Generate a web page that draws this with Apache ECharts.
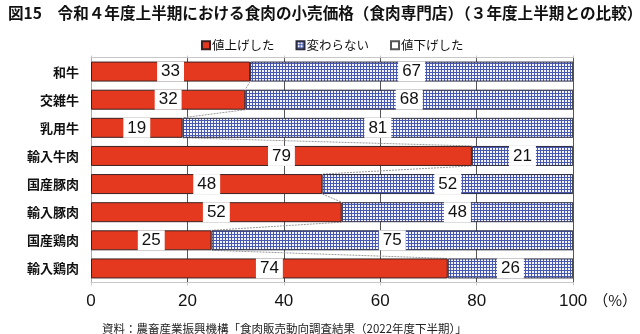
<!DOCTYPE html>
<html>
<head>
<meta charset="utf-8">
<script src="https://cdn.jsdelivr.net/npm/echarts@6/dist/echarts.min.js"></script>
<style>
  html, body { margin: 0; padding: 0; background: #fff; }
  #chart { width: 640px; height: 334px; }
</style>
</head>
<body>
<div id="chart"></div>
<script>
// 品目と回答割合（%）
const categories = ['和牛', '交雑牛', '乳用牛', '輸入牛肉', '国産豚肉', '輸入豚肉', '国産鶏肉', '輸入鶏肉'];
const raised    = [33, 32, 19, 79, 48, 52, 25, 74];
const unchanged = [67, 68, 81, 21, 52, 48, 75, 26];
const lowered   = [0, 0, 0, 0, 0, 0, 0, 0];
const seriesNames = ['値上げした', '変わらない', '値下げした'];
const xTicks = [0, 20, 40, 60, 80, 100];

const CJK = '"Noto Sans CJK JP", "Noto Sans", sans-serif';
const NUM = '"Liberation Sans Narrow", "Liberation Sans", Arial, sans-serif';
const BAR_W = 20;

// 「変わらない」の格子模様
function gridPattern() {
  const c = document.createElement('canvas');
  c.width = 3; c.height = 3;
  const g = c.getContext('2d');
  g.fillStyle = '#f3f4fb';
  g.fillRect(0, 0, 3, 3);
  g.fillStyle = '#4658b2';
  g.fillRect(0, 0, 3, 1);
  g.fillRect(0, 0, 1, 3);
  return { image: c, repeat: 'repeat' };
}

const valueLabel = {
  show: true,
  position: 'inside',
  color: '#111',
  fontFamily: NUM,
  fontSize: 17,
  lineHeight: 18,
  backgroundColor: '#fff',
  padding: [1, 4, 1, 4]
};

// 系列線：隣り合う棒の「値上げした」境界を結ぶ
const connectorData = raised.slice(0, -1).map((v, i) => [i, v, raised[i + 1]]);

const chart = echarts.init(document.getElementById('chart'), null, { renderer: 'canvas' });
chart.setOption({
  animation: false,
  title: [{
    text: '図15　令和４年度上半期における食肉の小売価格（食肉専門店）（３年度上半期との比較）',
    left: 3, top: 0,
    textStyle: { fontFamily: CJK, fontSize: 15.6, fontWeight: 'bold', color: '#111' }
  }, {
    text: '資料：農畜産業振興機構「食肉販売動向調査結果（2022年度下半期）」',
    left: 97, top: 318,
    textStyle: { fontFamily: CJK, fontSize: 11.5, fontWeight: 'normal', color: '#222' }
  }],
  legend: {
    top: 34, left: 196,
    icon: 'rect',
    itemWidth: 8, itemHeight: 8, itemGap: 21,
    textStyle: { fontFamily: CJK, fontSize: 12.5, color: '#111', padding: [0, 0, 0, -3] },
    data: seriesNames
  },
  grid: { left: 91, right: 62, top: 57.5, bottom: 51.5, containLabel: false },
  xAxis: [{
    type: 'value', min: 0, max: 100, interval: 20,
    axisLine: { show: true, lineStyle: { color: '#c8c8c8' } },
    axisTick: { show: true, length: 3, lineStyle: { color: '#c8c8c8' } },
    splitLine: { show: true, lineStyle: { color: '#555', width: 1 } },
    axisLabel: {
      margin: 10, color: '#111', fontFamily: NUM, fontSize: 17,
      formatter: v => xTicks.includes(v) ? String(v) : ''
    },
    name: '（%）', nameLocation: 'end', nameGap: 12,
    nameTextStyle: { fontFamily: CJK, fontSize: 15, color: '#111', verticalAlign: 'top', padding: [10, 0, 0, 0] }
  }, {
    type: 'value', min: 0, max: 100, interval: 20, position: 'top',
    axisLine: { show: true, lineStyle: { color: '#c8c8c8' } },
    axisTick: { show: true, length: 2, lineStyle: { color: '#c8c8c8' } },
    axisLabel: { show: false }, splitLine: { show: false }
  }],
  yAxis: {
    type: 'category', data: categories, inverse: true,
    axisLine: { show: true, lineStyle: { color: '#aaa' } },
    axisTick: { show: false },
    axisLabel: { margin: 12, color: '#111', fontFamily: CJK, fontSize: 13, fontWeight: 'bold' }
  },
  series: [{
    name: seriesNames[0], type: 'bar', stack: 'total', data: raised, barWidth: BAR_W,
    itemStyle: { color: '#e5391f', borderColor: '#3a2020', borderWidth: 1 },
    label: valueLabel
  }, {
    name: seriesNames[1], type: 'bar', stack: 'total', data: unchanged, barWidth: BAR_W,
    itemStyle: { color: gridPattern(), borderColor: '#2a2a40', borderWidth: 1 },
    label: valueLabel
  }, {
    name: seriesNames[2], type: 'bar', stack: 'total', data: lowered, barWidth: BAR_W,
    itemStyle: { color: '#fff', borderColor: '#555', borderWidth: 1 },
    label: { show: false }
  }, {
    type: 'custom', silent: true, z: 1,
    data: connectorData,
    renderItem: (params, api) => {
      const i = api.value(0);
      const a = api.coord([api.value(1), i]);
      const b = api.coord([api.value(2), i + 1]);
      return {
        type: 'line',
        shape: { x1: a[0], y1: a[1] + BAR_W / 2, x2: b[0], y2: b[1] - BAR_W / 2 },
        style: { stroke: '#999', lineWidth: 1, lineDash: [2, 1] }
      };
    }
  }]
});
</script>
</body>
</html>
